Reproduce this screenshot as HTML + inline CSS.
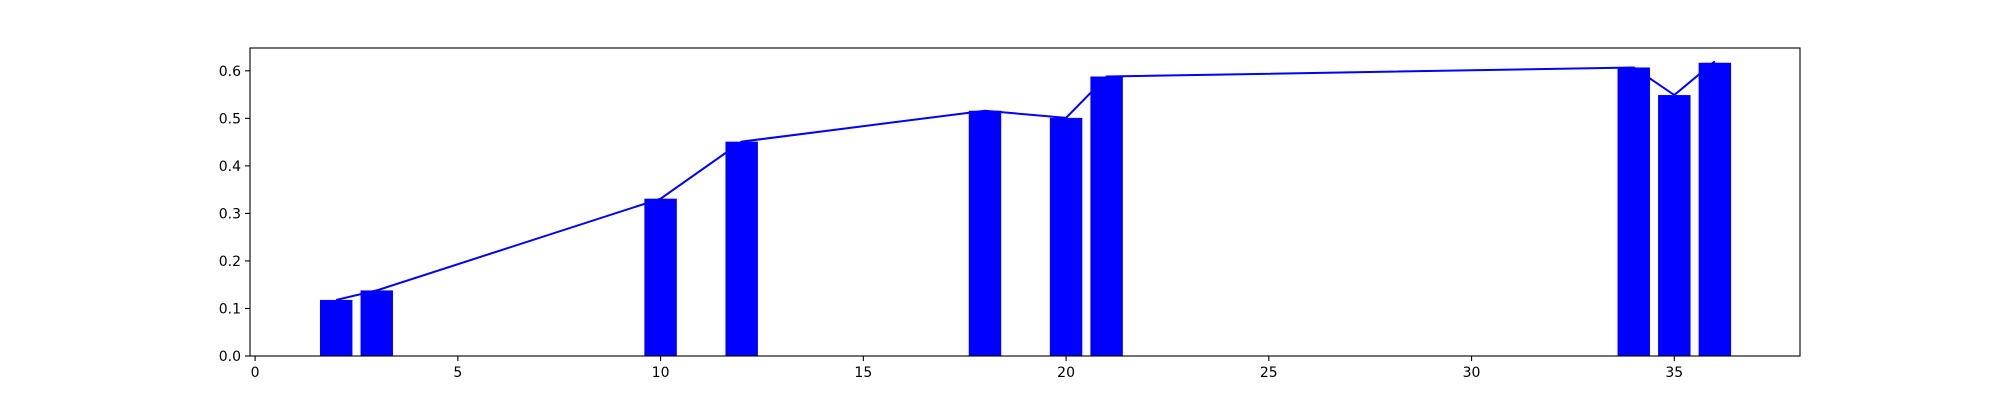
<!DOCTYPE html>
<html><head><meta charset="utf-8"><style>
body{margin:0;background:#fff;}
svg{display:block;font-family:"DejaVu Sans","Liberation Sans",sans-serif;}
</style></head><body>
<svg id="chart" width="2000" height="400"></svg>
<script>
const categories=[2,3,10,12,18,20,21,34,35,36];
const barValues=[0.118,0.138,0.331,0.451,0.516,0.501,0.588,0.607,0.549,0.617];
const lineValues=[0.118,0.138,0.331,0.451,0.516,0.501,0.588,0.607,0.549,0.620];
const xTicks=[0,5,10,15,20,25,30,35];
const yTicks=[0.0,0.1,0.2,0.3,0.4,0.5,0.6];
const NS='http://www.w3.org/2000/svg';
const svg=document.getElementById('chart');
const L=250,R=1800,T=48,B=356;
const xmin=-0.126,xmax=38.1,ymin=0,ymax=0.648;
const sx=v=>L+(v-xmin)/(xmax-xmin)*(R-L);
const sy=v=>B-(v-ymin)/(ymax-ymin)*(B-T);
function mk(tag,attrs){const e=document.createElementNS(NS,tag);for(const k in attrs)e.setAttribute(k,attrs[k]);svg.appendChild(e);return e;}
categories.forEach((c,i)=>{
  const r=mk('rect',{x:sx(c-0.4),y:sy(barValues[i]),width:sx(c+0.4)-sx(c-0.4),height:sy(0)-sy(barValues[i]),fill:'#0000ff'});
  
  
});
const pl=mk('polyline',{points:categories.map((c,i)=>sx(c)+','+sy(lineValues[i])).join(' '),fill:'none',stroke:'#0000ff','stroke-width':2});


const fr=mk('rect',{x:L,y:T,width:R-L,height:B-T,fill:'none',stroke:'#000','stroke-width':1.1});


xTicks.forEach(t=>{
  const x=sx(t);
  mk('line',{x1:x,x2:x,y1:B,y2:B+5,stroke:'#000','stroke-width':1.1});
  const tx=mk('text',{x:x,y:B+21,'text-anchor':'middle','font-size':14});
  tx.textContent=t;
  
  
});
yTicks.forEach(t=>{
  const y=sy(t);
  mk('line',{x1:L-5,x2:L,y1:y,y2:y,stroke:'#000','stroke-width':1.1});
  const tx=mk('text',{x:L-9,y:y+5,'text-anchor':'end','font-size':14});
  tx.textContent=t.toFixed(1);
  
  
});
</script>
</body></html>
